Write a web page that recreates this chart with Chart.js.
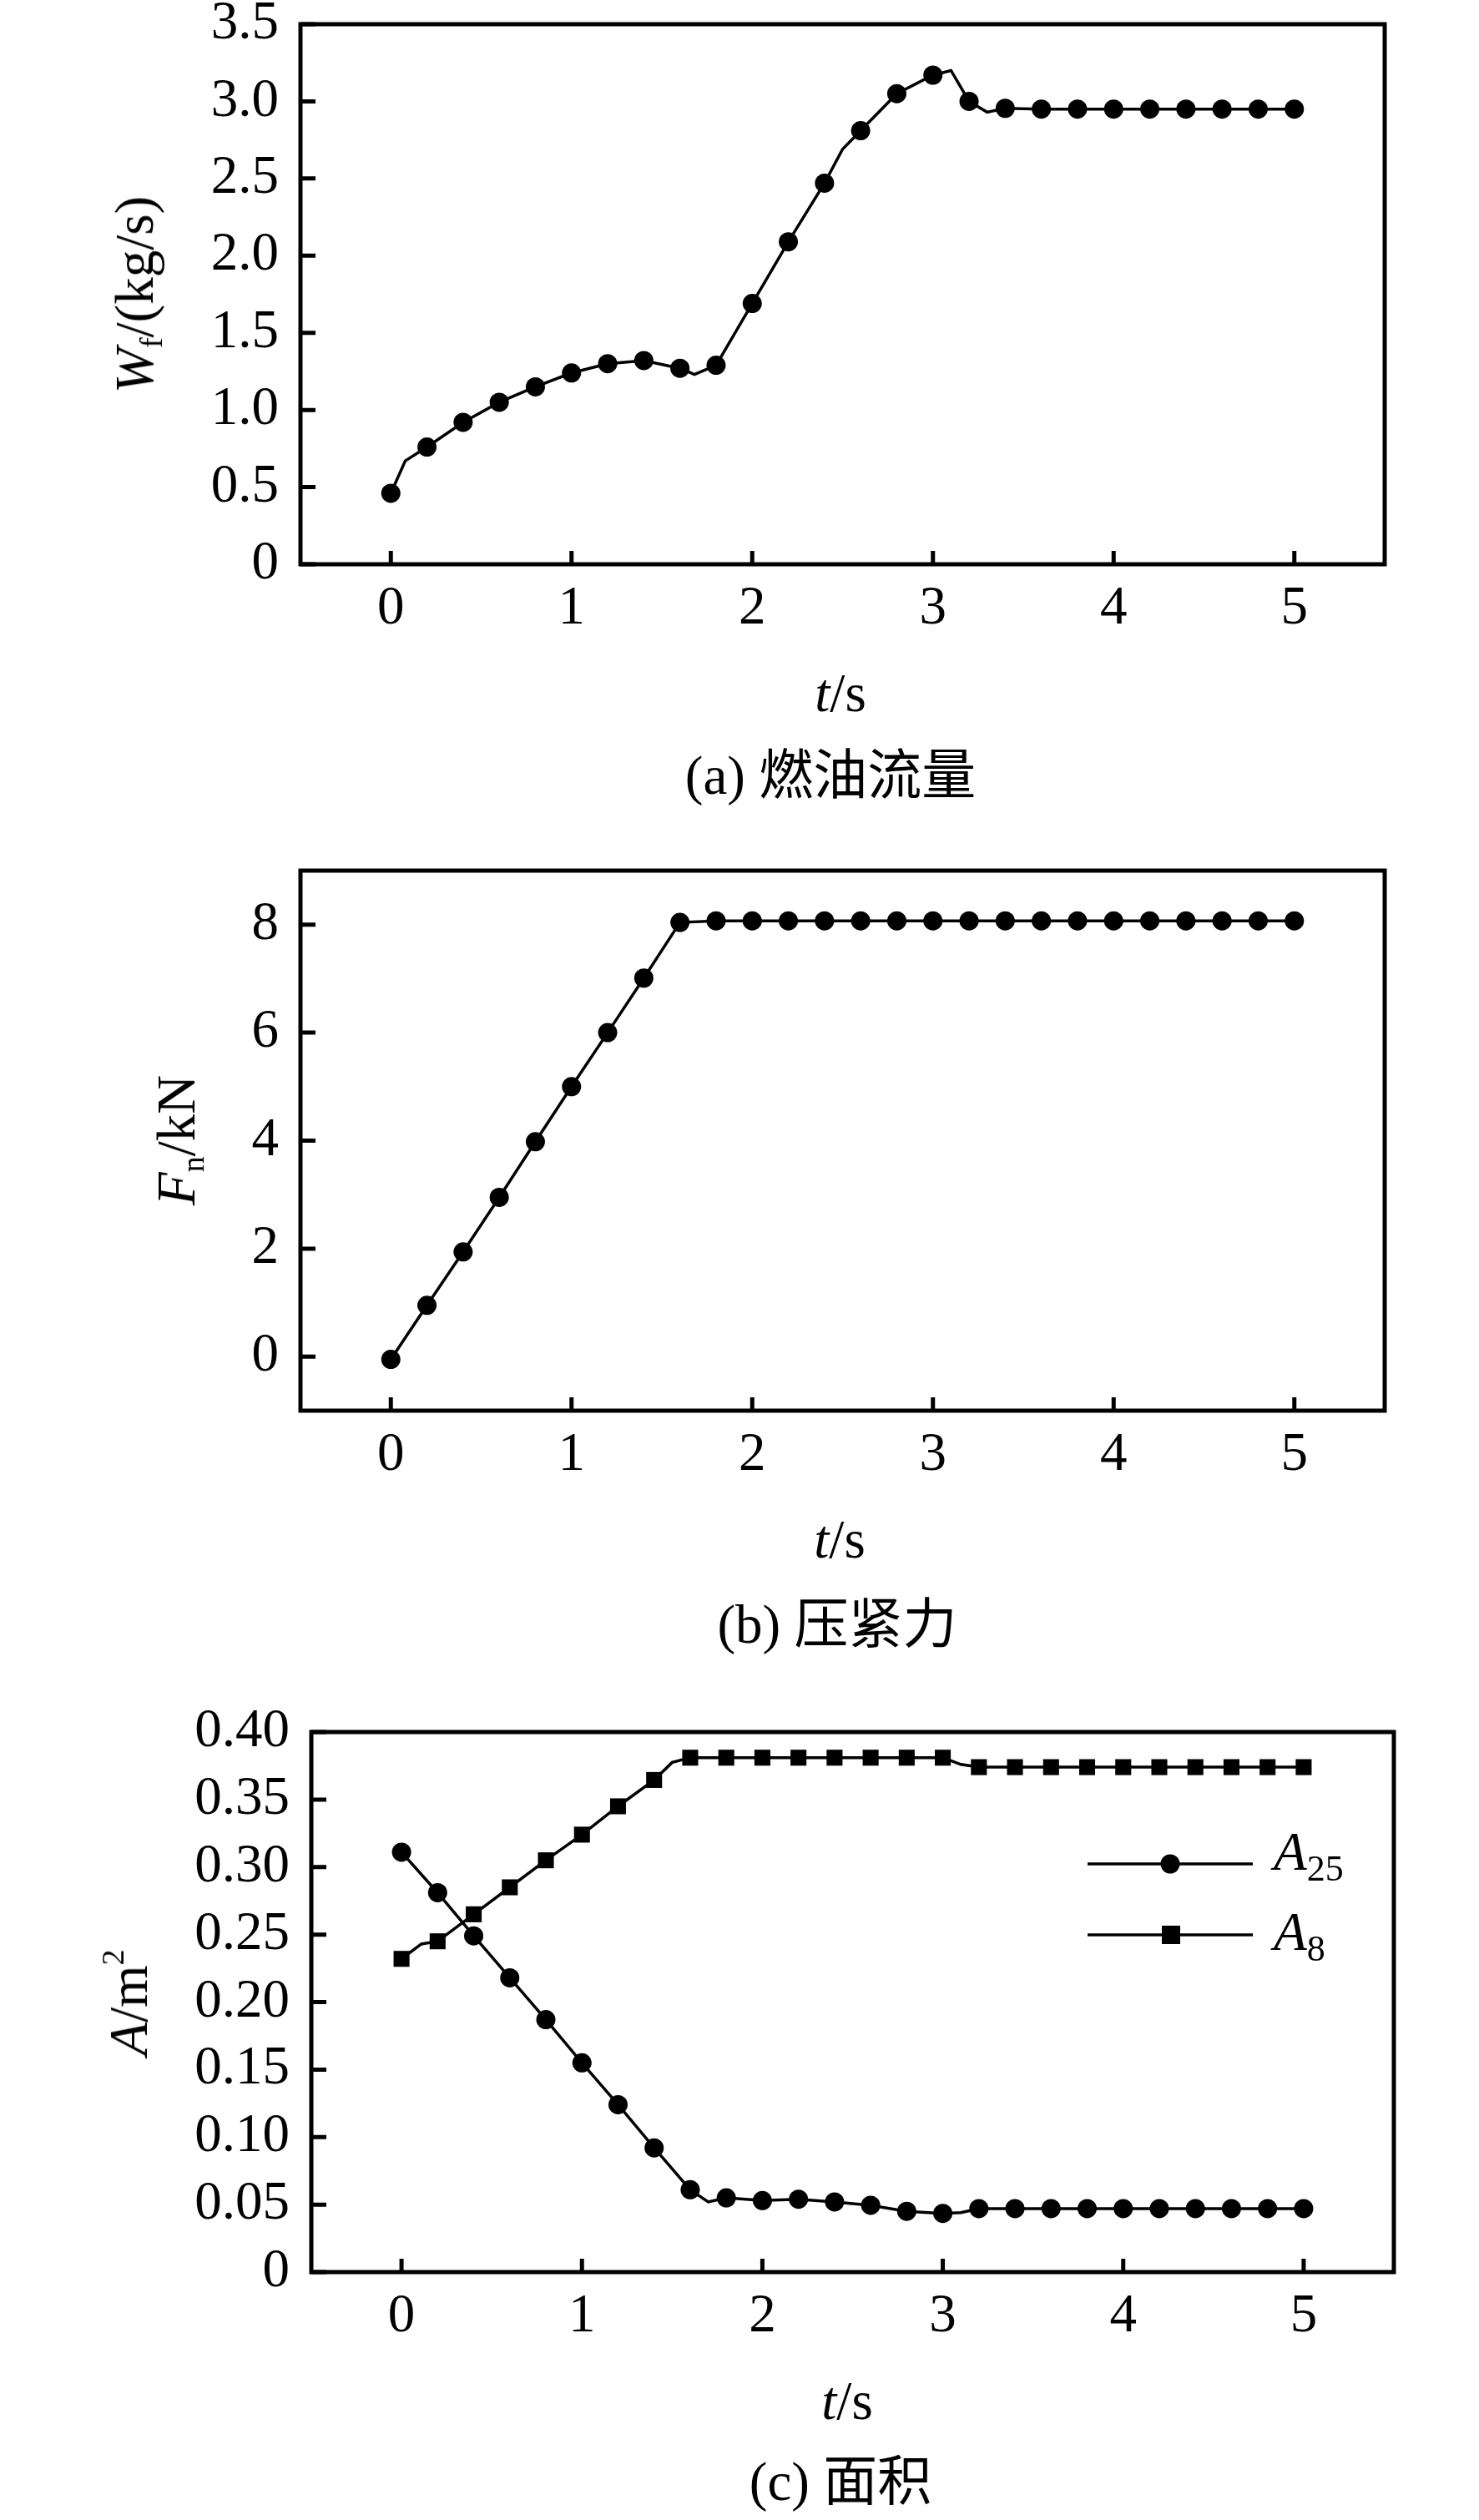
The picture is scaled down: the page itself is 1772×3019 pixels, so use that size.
<!DOCTYPE html>
<html><head><meta charset="utf-8">
<script src="https://cdn.jsdelivr.net/npm/chart.js@4.4.1/dist/chart.umd.min.js"></script>
<style>
html,body{margin:0;padding:0;background:#fff;}
body{width:1772px;height:3019px;position:relative;overflow:hidden;font-family:"Liberation Serif","Noto Sans CJK SC",serif;color:#000;}
canvas{position:absolute;left:0;}
.t{position:absolute;font-size:65px;line-height:1;white-space:nowrap;}
.h{transform:translateX(-50%);}
.v{transform-origin:0 0;transform:rotate(-90deg) translateX(-50%);}
sub,sup{line-height:0;}
.v sub{font-size:38px;vertical-align:-11px;}
.v sup{font-size:38px;vertical-align:28px;}
.lg sub{font-size:44px;vertical-align:-13px;}
</style></head><body>
<canvas id="ca" width="1772" height="800" style="top:0px"></canvas>
<canvas id="cb" width="1772" height="800" style="top:1000px"></canvas>
<canvas id="cc" width="1772" height="800" style="top:2030px"></canvas>

<div class="t v" style="left:128.5px;top:352.5px"><i>W</i><sub>f</sub>/(kg/s)</div>
<div class="t h" style="left:1007px;top:797.5px"><i>t</i>/s</div>
<div class="t h" style="left:995px;top:896.5px">(a) 燃油流量</div>

<div class="t v" style="left:178.5px;top:1366px"><i>F</i><sub>n</sub>/kN</div>
<div class="t h" style="left:1006px;top:1811.5px"><i>t</i>/s</div>
<div class="t h" style="left:1003px;top:1913.5px">(b) 压紧力</div>

<div class="t v" style="left:121.5px;top:2399px"><i>A</i>/m<sup>2</sup></div>
<div class="t h" style="left:1015px;top:2843.5px"><i>t</i>/s</div>
<div class="t h" style="left:1007px;top:2941px">(c) 面积</div>

<div class="t lg" style="left:1526px;top:2185.5px"><i>A</i><sub>25</sub></div>
<div class="t lg" style="left:1526px;top:2281.5px"><i>A</i><sub>8</sub></div>

<script>
// ---------- data ----------
const xTicks = [0, 1, 2, 3, 4, 5];
const xTickLabels = ['0', '1', '2', '3', '4', '5'];

// (a) fuel flow W_f (kg/s)
const tA  = [0, 0.08, 0.2, 0.4, 0.6, 0.8, 1.0, 1.2, 1.4, 1.6, 1.68, 1.8, 2.0, 2.2, 2.4, 2.5, 2.6, 2.8, 3.0, 3.1, 3.2, 3.3, 3.4, 3.6, 3.8, 4.0, 4.2, 4.4, 4.6, 4.8, 5.0];
const wfA = [0.46, 0.67, 0.76, 0.92, 1.05, 1.15, 1.24, 1.30, 1.32, 1.27, 1.23, 1.29, 1.69, 2.09, 2.47, 2.69, 2.81, 3.05, 3.17, 3.20, 3.00, 2.93, 2.955, 2.95, 2.95, 2.95, 2.95, 2.95, 2.95, 2.95, 2.95];
const yTicksA  = [0, 0.5, 1.0, 1.5, 2.0, 2.5, 3.0, 3.5];
const yLabelsA = ['0', '0.5', '1.0', '1.5', '2.0', '2.5', '3.0', '3.5'];

// (b) clamping force F_n (kN)
const tB  = [0, 0.2, 0.4, 0.6, 0.8, 1.0, 1.2, 1.4, 1.6, 1.8, 2.0, 2.2, 2.4, 2.6, 2.8, 3.0, 3.2, 3.4, 3.6, 3.8, 4.0, 4.2, 4.4, 4.6, 4.8, 5.0];
const fnB = [-0.05, 0.95, 1.94, 2.95, 3.98, 5.0, 6.0, 7.01, 8.04, 8.07, 8.07, 8.07, 8.07, 8.07, 8.07, 8.07, 8.07, 8.07, 8.07, 8.07, 8.07, 8.07, 8.07, 8.07, 8.07, 8.07];
const yTicksB  = [0, 2, 4, 6, 8];
const yLabelsB = ['0', '2', '4', '6', '8'];

// (c) areas A25 / A8 (m^2)
const tC25 = [0, 0.2, 0.4, 0.6, 0.8, 1.0, 1.2, 1.4, 1.6, 1.7, 1.8, 2.0, 2.2, 2.4, 2.6, 2.8, 3.0, 3.1, 3.2, 3.4, 3.6, 3.8, 4.0, 4.2, 4.4, 4.6, 4.8, 5.0];
const a25  = [0.311, 0.281, 0.249, 0.218, 0.187, 0.155, 0.124, 0.092, 0.061, 0.052, 0.055, 0.053, 0.054, 0.052, 0.0495, 0.045, 0.0435, 0.044, 0.047, 0.047, 0.047, 0.047, 0.047, 0.047, 0.047, 0.047, 0.047, 0.047];
const tC8  = [0, 0.11, 0.2, 0.4, 0.6, 0.8, 1.0, 1.2, 1.4, 1.5, 1.6, 1.8, 2.0, 2.2, 2.4, 2.6, 2.8, 3.0, 3.1, 3.2, 3.4, 3.6, 3.8, 4.0, 4.2, 4.4, 4.6, 4.8, 5.0];
const a8   = [0.232, 0.243, 0.245, 0.265, 0.285, 0.305, 0.324, 0.345, 0.3645, 0.3775, 0.381, 0.381, 0.381, 0.381, 0.381, 0.381, 0.381, 0.381, 0.376, 0.374, 0.374, 0.374, 0.374, 0.374, 0.374, 0.374, 0.374, 0.374, 0.374];
const yTicksC  = [0, 0.05, 0.10, 0.15, 0.20, 0.25, 0.30, 0.35, 0.40];
const yLabelsC = ['0', '0.05', '0.10', '0.15', '0.20', '0.25', '0.30', '0.35', '0.40'];
const seriesNamesC = ['A25', 'A8'];

// ---------- drawing ----------
Chart.defaults.font.family = "'Liberation Serif', serif";
Chart.defaults.font.size = 65;
Chart.defaults.color = '#000';

function pts(ts, vs) { return ts.map((t, i) => ({x: t, y: vs[i]})); }
function onGrid(t) { return Math.abs(t * 5 - Math.round(t * 5)) < 1e-6; }

const framePlugin = {
  id: 'frame',
  beforeDatasetsDraw(chart) {
    const {ctx, chartArea: a, scales} = chart;
    const x = scales.x, y = scales.y;
    ctx.save();
    ctx.strokeStyle = '#000';
    ctx.lineWidth = 5;
    ctx.strokeRect(a.left, a.top, a.right - a.left, a.bottom - a.top);
    ctx.beginPath();
    x.ticks.forEach(t => { const px = x.getPixelForValue(t.value); ctx.moveTo(px, a.bottom); ctx.lineTo(px, a.bottom - 16); });
    y.ticks.forEach(t => { const py = y.getPixelForValue(t.value); ctx.moveTo(a.left, py); ctx.lineTo(a.left + 18, py); });
    ctx.stroke();
    ctx.restore();
  }
};

function dataset(ts, vs, style, r, name) {
  return {
    label: name || '',
    data: pts(ts, vs),
    borderColor: '#000',
    backgroundColor: '#000',
    borderWidth: 3.5,
    tension: 0,
    pointStyle: style,
    pointBorderWidth: 0,
    pointRadius: ctx => onGrid(ctx.raw.x) ? r : 0,
    clip: false
  };
}

function makeChart(id, top, H, L, R, T, B, datasets, yMin, yMax, yT, yL, extraPlugins) {
  return new Chart(document.getElementById(id), {
    type: 'line',
    data: {datasets},
    plugins: [framePlugin].concat(extraPlugins || []),
    options: {
      responsive: false, animation: false, devicePixelRatio: 1, events: [],
      layout: {padding: {left: 0, right: 1772 - R, top: T - top, bottom: 0}},
      plugins: {legend: {display: false}, tooltip: {enabled: false}},
      scales: {
        x: {
          type: 'linear', min: -0.5, max: 5.5,
          grid: {display: false, drawTicks: false}, border: {display: false},
          afterBuildTicks: s => { s.ticks = xTicks.map(v => ({value: v})); },
          afterFit: s => { s.height = H - (B - top); s.paddingLeft = 0; s.paddingRight = 0; },
          ticks: {padding: 15, autoSkip: false, maxRotation: 0, minRotation: 0, color: '#000',
                  callback: (v, i) => xTickLabels[i]}
        },
        y: {
          type: 'linear', min: yMin, max: yMax,
          grid: {display: false, drawTicks: false}, border: {display: false},
          afterBuildTicks: s => { s.ticks = yT.map(v => ({value: v})); },
          afterFit: s => { s.width = L; s.paddingTop = 0; s.paddingBottom = 0; },
          ticks: {padding: 26, autoSkip: false, color: '#000', callback: (v, i) => yL[i]}
        }
      }
    }
  });
}

// legend for (c)
const legendPlugin = {
  id: 'legendC',
  afterDatasetsDraw(chart) {
    const ctx = chart.ctx;
    const rows = [{y: 2233 - 2030, style: 'circle'}, {y: 2318 - 2030, style: 'rect'}];
    ctx.save();
    ctx.strokeStyle = '#000'; ctx.fillStyle = '#000'; ctx.lineWidth = 3.5;
    rows.forEach(row => {
      ctx.beginPath(); ctx.moveTo(1303, row.y); ctx.lineTo(1501, row.y); ctx.stroke();
      if (row.style === 'circle') {
        ctx.beginPath(); ctx.arc(1402, row.y, 11.5, 0, Math.PI * 2); ctx.fill();
      } else {
        ctx.fillRect(1403 - 11, row.y - 11, 22, 22);
      }
    });
    ctx.restore();
  }
};

makeChart('ca', 0, 800, 360, 1659, 29, 676,
  [dataset(tA, wfA, 'circle', 11.5)], 0, 3.5, yTicksA, yLabelsA);
makeChart('cb', 1000, 800, 360, 1659, 1043, 1690,
  [dataset(tB, fnB, 'circle', 11.5)], -1, 9, yTicksB, yLabelsB);
makeChart('cc', 2030, 800, 373, 1670, 2075, 2722,
  [dataset(tC25, a25, 'circle', 11.5, seriesNamesC[0]), dataset(tC8, a8, 'rect', 13.5, seriesNamesC[1])],
  0, 0.40, yTicksC, yLabelsC, [legendPlugin]);
</script>
</body></html>
